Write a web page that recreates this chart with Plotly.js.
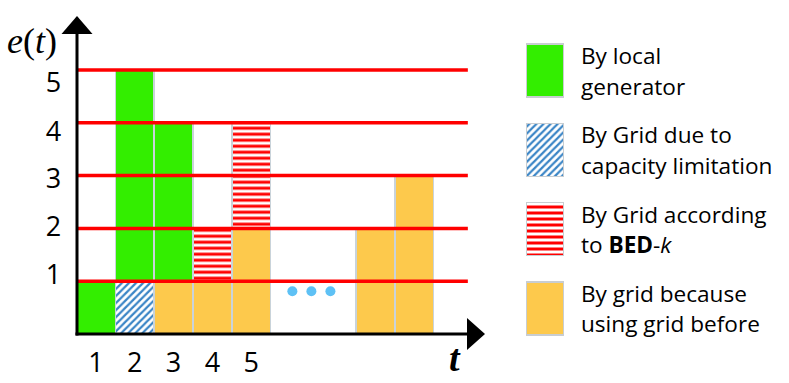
<!DOCTYPE html>
<html>
<head>
<meta charset="utf-8">
<script src="https://cdn.plot.ly/plotly-3.0.1.min.js"></script>
<style>html,body{margin:0;padding:0;background:#fff;}#chart{width:789px;height:383px;}</style>
</head>
<body>
<div id="chart"></div>
<script>
// ---- data ----
const slotPos   = [0.5, 1.5, 2.5, 3.5, 4.5, 7.7, 8.7];
const xTickText = ['1', '2', '3', '4', '5'];
const yTickText = ['1', '2', '3', '4', '5'];
const yTickPos  = [1.12, 2.03, 2.95, 3.84, 4.77];
const capLimit  = [null, 1, null, null, null, null, null];   // By Grid due to capacity limitation
const gridBefore= [null, null, 1, 1, 2, 2, 3];               // By grid because using grid before
const localGen  = [1, 4, 3, null, null, null, null];         // By local generator
const bedK      = [null, null, null, 1, 2, null, null];      // By Grid according to BED-k
const levels    = [1, 2, 3, 4, 5];
const ellipsisX = [5.56, 6.05, 6.54];
const ellipsisY = [0.81, 0.81, 0.81];
const legendLines = [
  ['By local', 'generator'],
  ['By Grid due to', 'capacity limitation'],
  ['By Grid according', 'to <b>BED</b>-<i>k</i>'],
  ['By grid because', 'using grid before']
];

// ---- style ----
const W = 789, H = 383;
const GREEN = '#33ee00', ORANGE = '#fdc94c', BLUE = '#3a85c6', RED = '#ff0000';
const EDGE = {color: '#c9d3da', width: 1.5};
const FONT = '"Open Sans", Lato, sans-serif';
const px = x => x / W, py = y => 1 - y / H;

const styles = [
  {color: GREEN, pattern: {shape: ''}},
  {color: 'white', pattern: {shape: '/', fgcolor: BLUE, bgcolor: 'white', size: 5, solidity: 0.45, fillmode: 'replace'}},
  {color: 'white', pattern: {shape: '-', fgcolor: RED, bgcolor: 'white', size: 6, solidity: 0.5, fillmode: 'replace'}},
  {color: ORANGE, pattern: {shape: ''}}
];

function barTrace(y, st) {
  return {type: 'bar', x: slotPos, y: y, width: 1, xaxis: 'x', yaxis: 'y',
          marker: {color: st.color, pattern: st.pattern, line: EDGE},
          hoverinfo: 'skip', showlegend: false};
}

const traces = [
  barTrace(capLimit, styles[1]),
  barTrace(gridBefore, styles[3]),
  barTrace(localGen, styles[0]),
  barTrace(bedK, styles[2]),
  {type: 'scatter', mode: 'markers', x: ellipsisX, y: ellipsisY, xaxis: 'x', yaxis: 'y',
   marker: {color: '#5ec1f5', size: 10}, hoverinfo: 'skip', showlegend: false}
];

// legend swatches drawn as bars on a hidden pixel axis
const swTop0 = 44, swStep = 79.3, swH = 53;
legendLines.forEach((_, i) => {
  traces.push({type: 'bar', x: [0.5], y: [swH], base: [swTop0 + i * swStep], width: 1,
    xaxis: 'x2', yaxis: 'y2',
    marker: {color: styles[i].color, pattern: styles[i].pattern, line: {color: '#c8cdd1', width: 1.5}},
    hoverinfo: 'skip', showlegend: false});
});

const shapes = levels.map(v => ({type: 'line', xref: 'x', yref: 'y', x0: 0, x1: 10.08, y0: v, y1: v,
  line: {color: RED, width: 3.5}, layer: 'above'}));
// arrow heads
shapes.push({type: 'path', xref: 'paper', yref: 'paper', fillcolor: 'black', line: {width: 0}, layer: 'above',
  path: `M${px(77)},${py(16)} L${px(61.5)},${py(34)} L${px(92.5)},${py(34)} Z`});
shapes.push({type: 'path', xref: 'paper', yref: 'paper', fillcolor: 'black', line: {width: 0}, layer: 'above',
  path: `M${px(485)},${py(334)} L${px(467)},${py(318)} L${px(467)},${py(350)} Z`});
// axis lines (extended to arrow heads)
shapes.push({type: 'line', xref: 'paper', yref: 'paper', x0: px(77), x1: px(77), y0: py(335.5), y1: py(30),
  line: {color: 'black', width: 3}, layer: 'above'});
shapes.push({type: 'line', xref: 'paper', yref: 'paper', x0: px(75.5), x1: px(470), y0: py(334), y1: py(334),
  line: {color: 'black', width: 3}, layer: 'above'});

const annotations = [
  {xref: 'paper', yref: 'paper', x: px(32), y: py(41), xanchor: 'center', yanchor: 'middle',
   text: '<i>e</i>(<i>t</i>)', showarrow: false,
   font: {family: '"Liberation Serif", "DejaVu Serif", serif', size: 36, color: 'black'}},
  {xref: 'paper', yref: 'paper', x: px(455), y: py(358), xanchor: 'center', yanchor: 'middle',
   text: '<b><i>t</i></b>', showarrow: false,
   font: {family: '"Liberation Serif", "DejaVu Serif", serif', size: 38, color: 'black'}}
];
legendLines.forEach((lines, i) => {
  const top = swTop0 + i * swStep;
  lines.forEach((t, j) => {
    annotations.push({xref: 'paper', yref: 'paper', x: px(579), y: py(top + 11.5 + j * 30.5),
      xanchor: 'left', yanchor: 'middle', text: t, showarrow: false,
      font: {family: FONT, size: 22.6, color: 'black'}});
  });
});

const layout = {
  width: W, height: H,
  margin: {l: 0, r: 0, t: 0, b: 0},
  paper_bgcolor: 'white', plot_bgcolor: 'rgba(0,0,0,0)',
  barmode: 'stack', bargap: 0,
  showlegend: false,
  xaxis: {domain: [px(76.5), px(472.5)], range: [0, 10.2], showline: false, zeroline: false, showgrid: false,
    tickmode: 'array', tickvals: slotPos.slice(0, 5), ticktext: xTickText,
    ticks: 'outside', ticklen: 5, tickcolor: 'rgba(0,0,0,0)',
    tickfont: {family: FONT, size: 27, color: 'black'}, fixedrange: true},
  yaxis: {domain: [py(334), py(17.2)], range: [0, 6], showline: false, zeroline: false, showgrid: false,
    tickmode: 'array', tickvals: yTickPos, ticktext: yTickText,
    ticks: 'outside', ticklen: 9, tickcolor: 'rgba(0,0,0,0)',
    tickfont: {family: FONT, size: 27, color: 'black'}, fixedrange: true},
  xaxis2: {domain: [px(526), px(564)], range: [0, 1], visible: false, fixedrange: true, anchor: 'y2'},
  yaxis2: {domain: [0, 1], range: [H, 0], visible: false, fixedrange: true, anchor: 'x2'},
  shapes: shapes,
  annotations: annotations
};

Plotly.newPlot('chart', traces, layout, {displayModeBar: false, staticPlot: true});
</script>
</body>
</html>
